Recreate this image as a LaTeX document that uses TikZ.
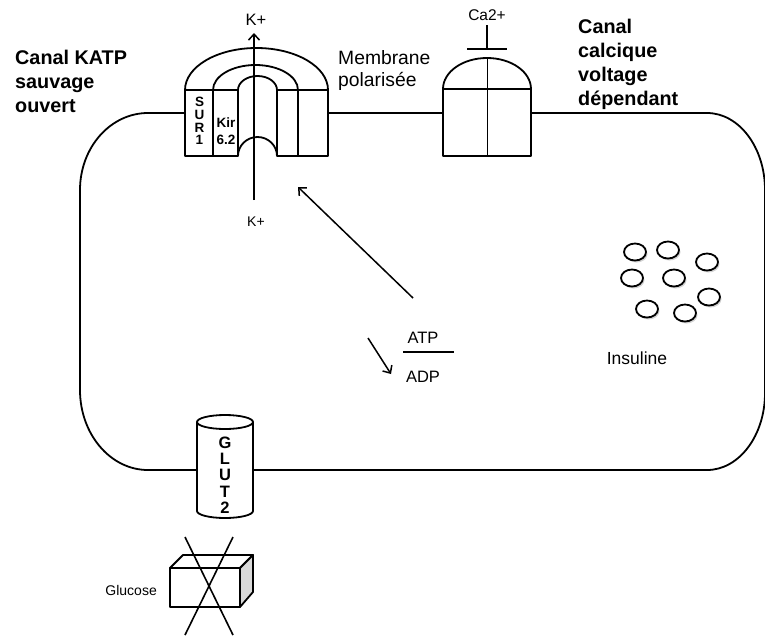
\documentclass[tikz,border=0pt]{standalone}
\usepackage{fontspec}
\setmainfont{Liberation Sans}
\usetikzlibrary{arrows.meta}
\tikzset{
  ln/.style={line width=1.8pt, line join=round},
  lbl/.style={inner sep=0pt, font=\fontsize{#1}{#1}\selectfont},
  blbl/.style={inner sep=0pt, align=left, font=\bfseries\fontsize{19.8}{24}\selectfont},
  vesicle/.style={line width=1.8pt, fill=white},
  arr/.style={line width=1.5pt, -{Straight Barb[length=6pt,width=11pt,line width=1.5pt]}},
}
\begin{document}
\begin{tikzpicture}[x=1pt, y=-1pt]
\useasboundingbox (0,0) rectangle (765,635);

% cell outline
\draw[ln] (148,113) -- (707,113)
  arc[start angle=-90, end angle=0, x radius=58, y radius=77] -- (765,393)
  arc[start angle=0, end angle=90, x radius=58, y radius=77] -- (148,470)
  arc[start angle=90, end angle=180, x radius=68, y radius=80] -- (80,190)
  arc[start angle=180, end angle=270, x radius=68, y radius=77] -- cycle;

% KATP channel
\fill[white] (185,90) arc[start angle=180, end angle=360, x radius=71.5, y radius=42]
  -- (328,156) -- (277,156) arc[start angle=0, end angle=-180, x radius=19.5, y radius=19]
  -- (185,156) -- cycle;
\draw[ln] (185,90) arc[start angle=180, end angle=360, x radius=71.5, y radius=42]
  -- (328,156) -- (277,156) arc[start angle=0, end angle=-180, x radius=19.5, y radius=19]
  -- (185,156) -- cycle;
\draw[ln] (213,156) -- (213,90) arc[start angle=180, end angle=360, x radius=42.5, y radius=25] -- (298,156);
\draw[ln] (238,156) -- (238,90) arc[start angle=180, end angle=360, x radius=19.5, y radius=14] -- (277,156);
\draw[ln] (185,90) -- (238,90) (277,90) -- (328,90);
\node[inner sep=0pt, font=\bfseries\fontsize{13.5}{12.7}\selectfont, align=center] (sur) at (199.5,121) {S\\U\\R\\1};
\node[inner sep=0pt, font=\bfseries\fontsize{13.5}{17}\selectfont, align=center] (kir) at (226,131) {Kir\\6.2};

% K+ flow
\node[lbl=16.5] (ktop) at (256,20) {K+};
\node[lbl=14] (kbot) at (256,222) {K+};
\coordinate (kin) at (254,200);
\coordinate (kout) at (254,33);
\draw[arr] (kin) -- (kout);

% Ca channel
\fill[white] (443,89) arc[start angle=180, end angle=360, x radius=44, y radius=31] -- (531,156) -- (443,156) -- cycle;
\draw[ln] (443,89) arc[start angle=180, end angle=360, x radius=44, y radius=31] -- (531,156) -- (443,156) -- cycle;
\draw[ln] (443,89) -- (531,89);
\draw[ln] (487.5,58) -- (487.5,156);
\node[lbl=15.5] (ca) at (487,15) {Ca2+};
\coordinate (tstem) at (487,25);
\coordinate (tbar) at (487,49);
\draw[ln] (tstem) -- (tbar);
\draw[ln] (467,49) -- (507,49);

% labels
\node[blbl, anchor=west] (katp) at (15,81) {Canal KATP\\sauvage\\ouvert};
\node[blbl, anchor=west] (cacl) at (578,64) {Canal\\calcique\\voltage\\dépendant};
\node[inner sep=0pt, anchor=west, align=left, font=\fontsize{19.3}{22}\selectfont] (memb) at (338,71) {Membrane\\polarisée};

% ATP / ADP
\node[lbl=16.5] (atp) at (423,338) {ATP};
\node[lbl=16.5] (adp) at (423,377) {ADP};
\draw[line width=1.8pt] (403,352) -- (454,352);
\coordinate (a1) at (413,298);
\coordinate (a2) at (298,187);
\draw[arr] (a1) -- (a2);
\coordinate (b1) at (368,338);
\coordinate (b2) at (391,374);
\draw[arr] (b1) -- (b2);

% insulin vesicles
\foreach \cx/\cy in {635/252, 668/250, 707/262, 632/278, 674/278, 709/297, 647/309, 685/313}{
  \fill[gray!35] (\cx+1.5,\cy+2) ellipse[x radius=11, y radius=8.5];
  \draw[vesicle] (\cx,\cy) ellipse[x radius=11, y radius=8.5];
}
\node[lbl=17.5] (ins) at (637,358) {Insuline};

% GLUT2
\fill[white] (197,422) -- (197,511) arc[start angle=180, end angle=0, x radius=28, y radius=7] -- (253,422) -- cycle;
\draw[ln] (197,422) -- (197,511) arc[start angle=180, end angle=0, x radius=28, y radius=7] -- (253,422);
\draw[ln, fill=white] (225,422) ellipse[x radius=28, y radius=7];
\node[inner sep=0pt, align=center, font=\bfseries\fontsize{16.5}{16.25}\selectfont] (glut) at (225,475) {G\\L\\U\\T\\2};

% glucose box
\draw[ln, fill=white] (170,568) rectangle (240,607);
\draw[ln, fill=white] (170,568) -- (183,555) -- (253,555) -- (240,568) -- cycle;
\draw[ln, fill=gray!30] (240,568) -- (253,555) -- (253,592) -- (240,607) -- cycle;
\draw[line width=1.6pt] (185,537) -- (233,635);
\draw[line width=1.6pt] (233,537) -- (185,635);
\node[lbl=14, anchor=east] (glc) at (157,590) {Glucose};
\end{tikzpicture}
\end{document}
